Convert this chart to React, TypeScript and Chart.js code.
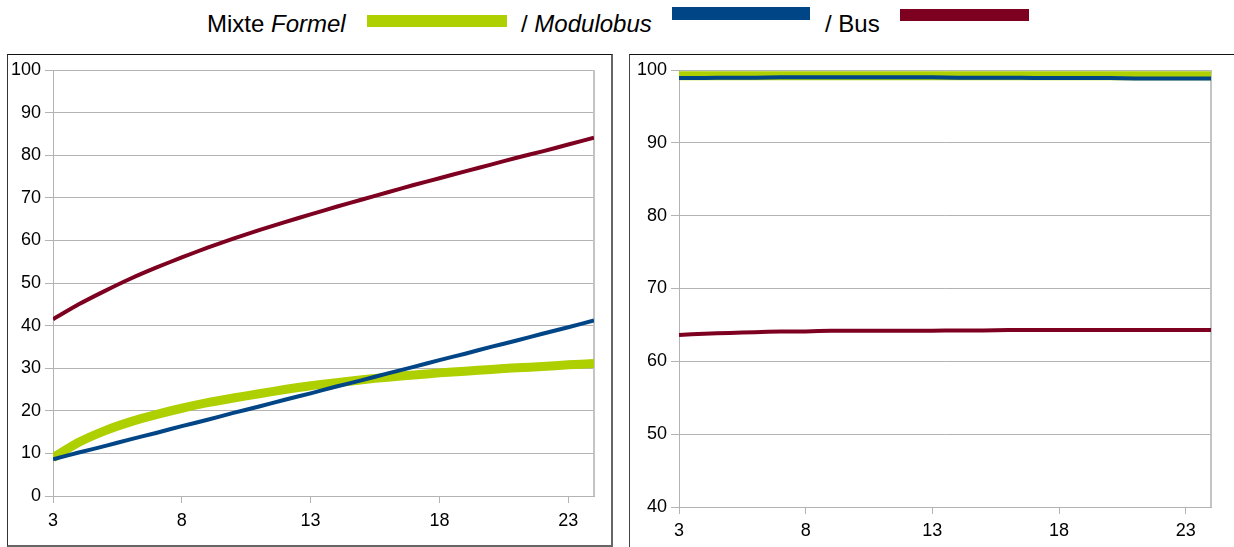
import React, { useEffect, useRef } from "react";
import { Chart, registerables } from "chart.js";

Chart.register(...registerables);

// ---------- data ----------
const xValues = [3, 4, 5, 6, 7, 8, 9, 10, 11, 12, 13, 14, 15, 16, 17, 18, 19, 20, 21, 22, 23, 24];
const xTickValues = [3, 8, 13, 18, 23];

const leftMixte = [9.0, 12.6, 15.3, 17.4, 19.1, 20.6, 21.9, 23.0, 24.0, 25.0, 25.9, 26.6, 27.3, 27.9, 28.4, 28.9, 29.3, 29.7, 30.1, 30.4, 30.8, 31.1];
const leftModulobus = [8.6, 10.2, 11.7, 13.3, 14.8, 16.4, 17.9, 19.5, 21.0, 22.6, 24.1, 25.7, 27.2, 28.8, 30.3, 31.9, 33.4, 35.0, 36.5, 38.1, 39.6, 41.2];
const leftBus = [41.5, 45.0, 48.1, 51.0, 53.6, 56.0, 58.3, 60.4, 62.4, 64.3, 66.1, 67.9, 69.6, 71.3, 73.0, 74.6, 76.2, 77.8, 79.4, 80.9, 82.5, 84.1];
const leftYTicks = [0, 10, 20, 30, 40, 50, 60, 70, 80, 90, 100];

const rightMixte = [99.2, 99.2, 99.2, 99.2, 99.2, 99.2, 99.2, 99.2, 99.2, 99.2, 99.2, 99.2, 99.2, 99.2, 99.2, 99.2, 99.2, 99.2, 99.2, 99.2, 99.2, 99.2];
const rightModulobus = [98.9, 98.9, 98.95, 98.95, 99.0, 99.0, 99.0, 99.0, 99.0, 99.0, 99.0, 98.95, 98.95, 98.95, 98.9, 98.9, 98.9, 98.9, 98.85, 98.85, 98.85, 98.85];
const rightBus = [63.6, 63.8, 63.9, 64.0, 64.1, 64.1, 64.2, 64.2, 64.2, 64.2, 64.2, 64.25, 64.25, 64.3, 64.3, 64.3, 64.3, 64.3, 64.3, 64.3, 64.3, 64.3];
const rightYTicks = [40, 50, 60, 70, 80, 90, 100];

const seriesNames = ["Mixte Formel", "Modulobus", "Bus"];
const seriesColors = ["#aecf00", "#004586", "#7e0021"];

const FONT = "'Liberation Sans', Arial, sans-serif";
const GRID = "#b3b3b3";

type PanelProps = {
  left: number;
  top: number;
  width: number;
  height: number;
  axisWidth: number;
  rightPad: number;
  topPad: number;
  xAxisHeight: number;
  xLabelPad: number;
  yTicks: number[];
  mixte: number[];
  modulobus: number[];
  bus: number[];
};

const plotBorder = {
  id: "plotBorder",
  beforeDatasetsDraw(chart: any) {
    const { ctx, chartArea } = chart;
    ctx.save();
    ctx.strokeStyle = "#c4c4c4";
    ctx.lineWidth = 2;
    ctx.beginPath();
    ctx.moveTo(chartArea.right, chartArea.top);
    ctx.lineTo(chartArea.right, chartArea.bottom);
    ctx.stroke();
    ctx.restore();
  },
};

function ChartPanel(p: PanelProps) {
  const ref = useRef<HTMLCanvasElement | null>(null);
  useEffect(() => {
    if (!ref.current) return;
    const toPts = (arr: number[]) => xValues.map((x, i) => ({ x, y: arr[i] }));
    const chart = new Chart(ref.current, {
      type: "line",
      data: {
        datasets: [
          { label: seriesNames[2], data: toPts(p.bus), borderColor: seriesColors[2], borderWidth: 4, pointRadius: 0, order: 1, tension: 0.2 },
          { label: seriesNames[1], data: toPts(p.modulobus), borderColor: seriesColors[1], borderWidth: 4, pointRadius: 0, order: 2, tension: 0.2 },
          { label: seriesNames[0], data: toPts(p.mixte), borderColor: seriesColors[0], borderWidth: 9, pointRadius: 0, order: 3, tension: 0.2, borderCapStyle: "butt" },
        ],
      },
      options: {
        responsive: false,
        animation: false,
        events: [],
        layout: { padding: { left: 0, right: p.rightPad, top: p.topPad, bottom: 0 } },
        plugins: { legend: { display: false }, tooltip: { enabled: false } },
        scales: {
          x: {
            type: "linear",
            min: 3,
            max: 24,
            afterBuildTicks: (s: any) => {
              s.ticks = xTickValues.map((v) => ({ value: v }));
            },
            afterFit: (s: any) => {
              s.height = p.xAxisHeight;
            },
            grid: { drawOnChartArea: false, drawTicks: true, tickLength: 7, color: GRID },
            border: { display: true, color: GRID, width: 1 },
            ticks: { color: "#000", font: { family: FONT, size: 18 }, padding: p.xLabelPad, maxRotation: 0, autoSkip: false },
          },
          y: {
            min: p.yTicks[0],
            max: p.yTicks[p.yTicks.length - 1],
            afterBuildTicks: (s: any) => {
              s.ticks = p.yTicks.map((v) => ({ value: v }));
            },
            afterFit: (s: any) => {
              s.width = p.axisWidth;
            },
            grid: { color: GRID, tickLength: 8, lineWidth: 1 },
            border: { display: true, color: GRID, width: 1 },
            ticks: { color: "#000", font: { family: FONT, size: 18 }, padding: 4 },
          },
        },
      },
      plugins: [plotBorder],
    } as any);
    return () => chart.destroy();
  }, []);
  return (
    <canvas
      ref={ref}
      width={p.width}
      height={p.height}
      style={{ position: "absolute", left: p.left, top: p.top, width: p.width, height: p.height }}
    />
  );
}

export default function App() {
  const legendText: React.CSSProperties = {
    position: "absolute",
    top: 10,
    fontFamily: FONT,
    fontSize: 24,
    color: "#000",
    whiteSpace: "nowrap",
    lineHeight: "normal",
  };
  return (
    <div
      style={{
        position: "fixed",
        left: 0,
        top: 0,
        width: 1234,
        height: 547,
        overflow: "hidden",
        background: "#fff",
      }}
    >
      {/* legend */}
      <div style={{ ...legendText, left: 207 }}>
        Mixte <i>Formel</i>
      </div>
      <div style={{ position: "absolute", left: 367, top: 15, width: 140, height: 12, background: seriesColors[0] }} />
      <div style={{ ...legendText, left: 521 }}>
        / <i>Modulobus</i>
      </div>
      <div style={{ position: "absolute", left: 672, top: 7, width: 138, height: 13, background: seriesColors[1] }} />
      <div style={{ ...legendText, left: 825 }}>/ Bus</div>
      <div style={{ position: "absolute", left: 900, top: 9, width: 129, height: 12, background: seriesColors[2] }} />

      {/* left panel frame */}
      <div
        style={{
          position: "absolute",
          left: 7,
          top: 54,
          width: 606,
          height: 493,
          boxSizing: "border-box",
          borderTop: "1px solid #111",
          borderLeft: "1px solid #333",
          borderRight: "2px solid #666",
          borderBottom: "2px solid #666",
        }}
      />
      {/* right panel frame */}
      <div
        style={{
          position: "absolute",
          left: 629,
          top: 54,
          width: 620,
          height: 510,
          boxSizing: "border-box",
          borderTop: "1px solid #111",
          borderLeft: "1px solid #444",
        }}
      />

      <ChartPanel
        left={9}
        top={55}
        width={603}
        height={490}
        axisWidth={44}
        rightPad={18}
        topPad={15}
        xAxisHeight={49}
        xLabelPad={7}
        yTicks={leftYTicks}
        mixte={leftMixte}
        modulobus={leftModulobus}
        bus={leftBus}
      />
      <ChartPanel
        left={631}
        top={55}
        width={603}
        height={492}
        axisWidth={48}
        rightPad={23}
        topPad={15}
        xAxisHeight={40}
        xLabelPad={6}
        yTicks={rightYTicks}
        mixte={rightMixte}
        modulobus={rightModulobus}
        bus={rightBus}
      />
    </div>
  );
}
